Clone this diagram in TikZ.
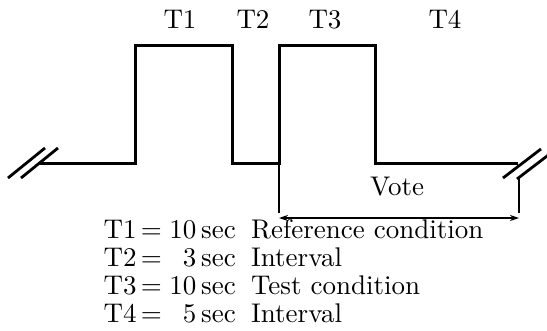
\documentclass[tikz,border=0pt]{standalone}
\usepackage{fontspec}
\setmainfont{lmroman10-regular.otf}
\usetikzlibrary{arrows.meta}
\begin{document}
\begin{tikzpicture}[x=1pt,y=-1pt,
  wave/.style={line width=3pt,line join=miter},
  brk/.style={line width=2.8pt},
  dim/.style={line width=1.3pt},
  lbl/.style={inner sep=0pt,font=\fontsize{27}{29}\selectfont},
  ]
\useasboundingbox (0,0) rectangle (547,330);
% timing levels
\coordinate (w0) at (40,163);
\coordinate (r1) at (135,163);
\coordinate (f1) at (232,163);
\coordinate (r3) at (279,163);
\coordinate (f3) at (375,163);
\coordinate (w1) at (518,163);
% pulse train
\draw[wave] (w0) -- (r1) -- ++(0,-118) -| (f1) -- (r3) -- ++(0,-118) -| (f3) -- (w1);
% break marks
\draw[brk] (8,178) -- (45,148);
\draw[brk] (21,178) -- (58,148);
\draw[brk] (503,178) -- (541,149);
\draw[brk] (517,179) -- (551,153);
% interval labels
\node[lbl,anchor=base] (t1) at (180,28) {T1};
\node[lbl,anchor=base] (t2) at (253,28) {T2};
\node[lbl,anchor=base] (t3) at (325,28) {T3};
\node[lbl,anchor=base] (t4) at (445,28) {T4};
% voting window
\coordinate (vl) at (279,213);
\coordinate (vr0) at (519,177);
\coordinate (vr) at (519,213);
\draw[dim] (r3) -- (vl);
\draw[dim] (vr0) -- (vr);
\draw[dim,{Stealth[length=9pt,width=6pt]}-{Stealth[length=9pt,width=6pt]}] ([yshift=-5]vl) -- ([yshift=-5]vr);
\node[lbl,anchor=base] (vote) at (397,195) {Vote};
% legend
\foreach \i/\n/\d/\y in {1/10/Reference condition/238, 2/3/Interval/266, 3/10/Test condition/294, 4/5/Interval/322}{
  \node[lbl,anchor=base west] (k\i) at (103.5,\y) {T\i};
  \node[lbl,anchor=base] (e\i) at (151.5,\y) {=};
  \node[lbl,anchor=base east] (n\i) at (196.5,\y) {\n};
  \node[lbl,anchor=base west] (s\i) at (201,\y) {sec};
  \node[lbl,anchor=base west] (d\i) at (251,\y) {\d};
}
\end{tikzpicture}
\end{document}
